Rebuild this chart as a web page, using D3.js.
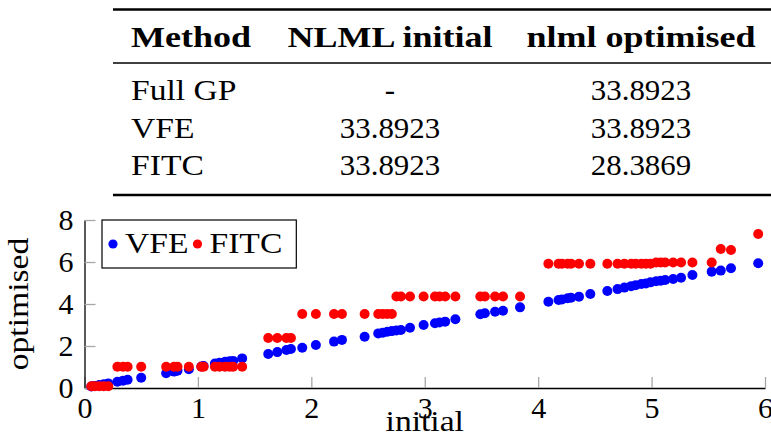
<!DOCTYPE html>
<html>
<head>
<meta charset="utf-8">
<script src="https://cdn.jsdelivr.net/npm/d3@7"></script>
<style>
  body { margin: 0; background: #fff; }
  svg { display: block; }
</style>
</head>
<body>
<div id="chart"></div>
<script>
// table contents
const tableHeader = ["Method", "NLML initial", "nlml optimised"];
const tableMethods = ["Full GP", "VFE", "FITC"];
const nlmlInitial = ["-", "33.8923", "33.8923"];
const nlmlOptimised = ["33.8923", "33.8923", "28.3869"];

// scatter: initial nlml (shared x) against optimised nlml for each method
const initial = [
  0.06, 0.09, 0.13, 0.17, 0.21,
  0.29, 0.34, 0.38, 0.50,
  0.72, 0.79, 0.82, 0.92,
  1.03, 1.05, 1.15, 1.19, 1.24, 1.28, 1.31, 1.39,
  1.62, 1.70, 1.78, 1.82,
  1.92, 2.04, 2.20, 2.27, 2.47, 2.59, 2.63, 2.67, 2.71,
  2.75, 2.79, 2.87, 2.99, 3.09, 3.13, 3.18, 3.27, 3.49, 3.53, 3.62, 3.69, 3.84,
  4.09, 4.18, 4.21, 4.26, 4.29, 4.36, 4.46, 4.61, 4.70, 4.76, 4.82, 4.86, 4.91, 4.95, 4.99,
  5.04, 5.08, 5.12, 5.19, 5.26, 5.36, 5.53,
  5.61, 5.70, 5.94
];
const vfe = [
  0.07, 0.10, 0.14, 0.18, 0.22,
  0.30, 0.35, 0.39, 0.49,
  0.70, 0.78, 0.82, 0.89,
  1.02, 1.05, 1.17, 1.20, 1.25, 1.27, 1.29, 1.41,
  1.62, 1.71, 1.81, 1.86,
  1.92, 2.05, 2.21, 2.29, 2.44, 2.60, 2.63, 2.68, 2.71,
  2.74, 2.76, 2.87, 3.00, 3.08, 3.12, 3.16, 3.27, 3.51, 3.56, 3.63, 3.68, 3.84,
  4.11, 4.19, 4.22, 4.27, 4.30, 4.35, 4.48, 4.62, 4.71, 4.78, 4.85, 4.89, 4.95, 4.98, 5.03,
  5.08, 5.11, 5.14, 5.19, 5.25, 5.38, 5.54,
  5.59, 5.70, 5.94
];
const fitc = [
  0.08, 0.08, 0.08, 0.08, 0.08,
  1.01, 1.01, 1.01, 1.01,
  1.01, 1.01, 1.01, 1.01,
  1.01, 1.01, 1.01, 1.01, 1.01, 1.01, 1.01, 1.01,
  2.38, 2.38, 2.38, 2.38,
  3.52, 3.52, 3.52, 3.52, 3.52, 3.52, 3.52, 3.52, 3.52,
  4.36, 4.36, 4.36, 4.36, 4.36, 4.36, 4.36, 4.36, 4.36, 4.36, 4.36, 4.36, 4.36,
  5.92, 5.92, 5.92, 5.92, 5.92, 5.92, 5.92, 5.92, 5.92, 5.92, 5.92, 5.92, 5.92, 5.92, 5.92,
  5.98, 5.98, 5.98, 5.98, 5.98, 5.98, 5.98,
  6.62, 6.57, 7.33
];
const seriesNames = ["VFE", "FITC"];
const xTicks = [0, 1, 2, 3, 4, 5, 6];
const yTicks = [0, 2, 4, 6, 8];

const width = 771, height = 432;
const font = "'Liberation Serif', 'Times New Roman', serif";
const colors = { "VFE": "#0000ff", "FITC": "#ff0000" };

const svg = d3.select("#chart").append("svg")
    .attr("width", width)
    .attr("height", height)
    .attr("font-family", font);

// stretch Times-like glyphs towards Computer Modern widths
function widen(sel, k) {
  sel.each(function() {
    const w = this.getComputedTextLength();
    d3.select(this).attr("textLength", w * k).attr("lengthAdjust", "spacingAndGlyphs");
  });
}

///// TABLE /////
const table = svg.append("g").attr("class", "table");
const colX = [131, 390, 641];          // left of col 1, centres of cols 2-3
const colAnchor = ["start", "middle", "middle"];
const rowY = [100, 137.5, 175];

table.append("line").attr("x1", 113).attr("x2", 771).attr("y1", 9.5).attr("y2", 9.5)
    .attr("stroke", "#000").attr("stroke-width", 2.4);
table.append("line").attr("x1", 113).attr("x2", 771).attr("y1", 63).attr("y2", 63)
    .attr("stroke", "#000").attr("stroke-width", 1.3);
table.append("line").attr("x1", 113).attr("x2", 771).attr("y1", 195).attr("y2", 195)
    .attr("stroke", "#000").attr("stroke-width", 2.4);

table.selectAll(".head")
  .data(tableHeader)
  .enter().append("text")
    .attr("class", "head")
    .attr("x", (d, i) => colX[i])
    .attr("y", 47)
    .attr("text-anchor", (d, i) => colAnchor[i])
    .attr("font-weight", "bold")
    .attr("font-size", 30)
    .text(d => d)
    .call(widen, 1.2);

const rows = tableMethods.map((m, i) => [m, nlmlInitial[i], nlmlOptimised[i]]);
rows.forEach(function(r, ri) {
  table.selectAll(".cell" + ri)
    .data(r)
    .enter().append("text")
      .attr("x", (d, i) => colX[i])
      .attr("y", rowY[ri])
      .attr("text-anchor", (d, i) => colAnchor[i])
      .attr("font-size", 30)
      .text(d => d)
      .each(function(d, i) { d3.select(this).call(widen, i == 0 ? 1.12 : 1.03); });
});

///// SCATTER PLOT /////
const x = d3.scaleLinear().domain([0, 6]).range([84.5, 765]);
const y = d3.scaleLinear().domain([0, 8]).range([388, 220]);

const xAxis = svg.append("g")
    .attr("transform", "translate(0," + y(0) + ")")
    .call(d3.axisBottom(x).tickValues(xTicks).tickFormat(d3.format("d"))
      .tickSize(-11).tickSizeOuter(0).tickPadding(9));
const yAxis = svg.append("g")
    .attr("transform", "translate(" + x(0) + ",0)")
    .call(d3.axisLeft(y).tickValues(yTicks).tickFormat(d3.format("d"))
      .tickSize(-11).tickSizeOuter(0).tickPadding(11));

[xAxis, yAxis].forEach(function(a) {
  a.attr("font-family", font).attr("font-size", 30);
  a.select(".domain").attr("stroke", "#000").attr("stroke-width", 1.3);
  a.selectAll(".tick line").attr("stroke", "#a6a6a6").attr("stroke-width", 1.3);
  a.selectAll(".tick text").attr("fill", "#000");
});

// points, VFE underneath FITC
const pts = initial.map((v, i) => ({ x: v, vfe: vfe[i], fitc: fitc[i] }));
seriesNames.forEach(function(s) {
  const key = s.toLowerCase();
  svg.append("g")
    .selectAll("circle")
    .data(pts)
    .enter().append("circle")
      .attr("cx", d => x(d.x))
      .attr("cy", d => y(d[key]))
      .attr("r", 5)
      .attr("fill", colors[s]);
});

// axis labels
svg.append("text")
    .attr("x", (x(0) + x(6)) / 2)
    .attr("y", 431)
    .attr("text-anchor", "middle")
    .attr("font-size", 30)
    .text("initial")
    .call(widen, 1.12);

svg.append("text")
    .attr("transform", "translate(28," + (y(0) + y(8)) / 2 + ") rotate(-90)")
    .attr("text-anchor", "middle")
    .attr("font-size", 30)
    .text("optimised")
    .call(widen, 1.12);

///// LEGEND /////
const legend = svg.append("g").attr("class", "legend");
const box = legend.append("rect")
    .attr("x", 102).attr("y", 220).attr("height", 48)
    .attr("fill", "#fff").attr("stroke", "#000").attr("stroke-width", 1.2);

let cursor = 102;
seriesNames.forEach(function(s, i) {
  const dotX = cursor + (i == 0 ? 11 : 9);
  legend.append("circle")
      .attr("cx", dotX).attr("cy", 244).attr("r", 4.6)
      .attr("fill", colors[s]);
  const t = legend.append("text")
      .attr("x", dotX + 12)
      .attr("y", 253)
      .attr("font-size", 30)
      .text(s)
      .call(widen, 1.12);
  cursor = dotX + 12 + (+t.attr("textLength"));
});
box.attr("width", cursor + 14 - 102);
</script>
</body>
</html>
